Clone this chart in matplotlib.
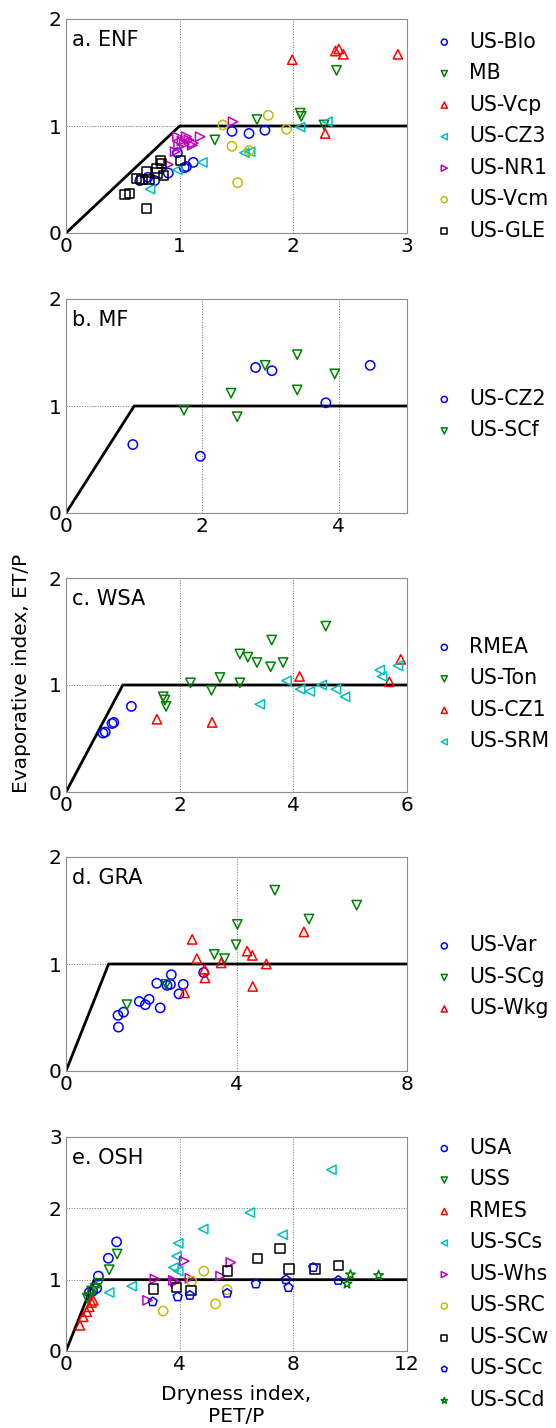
import matplotlib
matplotlib.use("Agg")
import matplotlib.pyplot as plt

# ---------------- data ----------------
# a. ENF
a_blo_x = [1.46, 1.61, 1.75, 1.12, 1.06, 1.04, 0.90, 0.78, 0.65, 0.98, 0.72]
a_blo_y = [0.95, 0.93, 0.96, 0.66, 0.62, 0.61, 0.56, 0.49, 0.49, 0.75, 0.52]
a_mb_x = [2.38, 2.06, 2.07, 1.68, 1.31, 2.27]
a_mb_y = [1.52, 1.12, 1.09, 1.06, 0.87, 1.01]
a_vcp_x = [1.99, 2.37, 2.40, 2.44, 2.92, 2.28]
a_vcp_y = [1.62, 1.70, 1.72, 1.67, 1.67, 0.93]
a_cz3_x = [2.30, 2.06, 1.57, 1.62, 1.20, 0.98, 0.74]
a_cz3_y = [1.04, 0.99, 0.75, 0.76, 0.66, 0.59, 0.41]
a_nr1_x = [1.47, 0.98, 1.06, 1.18, 1.12, 1.04, 0.99, 1.11, 0.96, 0.90, 1.02, 1.08]
a_nr1_y = [1.04, 0.90, 0.90, 0.90, 0.84, 0.83, 0.81, 0.82, 0.76, 0.64, 0.86, 0.87]
a_vcm_x = [1.78, 1.38, 1.94, 1.46, 1.61, 1.51]
a_vcm_y = [1.10, 1.01, 0.97, 0.81, 0.77, 0.47]
a_gle_x = [1.01, 0.83, 0.84, 0.80, 0.86, 0.71, 0.62, 0.73, 0.67, 0.52, 0.56, 0.71, 0.80]
a_gle_y = [0.68, 0.68, 0.65, 0.60, 0.54, 0.57, 0.51, 0.50, 0.50, 0.36, 0.37, 0.23, 0.56]

# b. MF
b_cz2_x = [0.98, 1.97, 2.78, 3.02, 3.81, 4.46]
b_cz2_y = [0.64, 0.53, 1.36, 1.33, 1.03, 1.38]
b_scf_x = [1.73, 2.42, 2.51, 2.92, 3.39, 3.39, 3.94]
b_scf_y = [0.96, 1.12, 0.90, 1.38, 1.48, 1.15, 1.30]

# c. WSA
c_rmea_x = [0.65, 0.69, 0.81, 0.84, 1.15]
c_rmea_y = [0.55, 0.56, 0.64, 0.65, 0.80]
c_ton_x = [1.71, 1.74, 1.76, 2.19, 2.56, 2.71, 3.06, 3.20, 3.36, 3.06, 3.62, 3.60, 3.82, 4.57]
c_ton_y = [0.89, 0.86, 0.80, 1.02, 0.95, 1.07, 1.29, 1.26, 1.21, 1.02, 1.42, 1.17, 1.21, 1.55]
c_cz1_x = [1.60, 2.57, 4.11, 5.69, 5.89]
c_cz1_y = [0.68, 0.65, 1.08, 1.03, 1.24]
c_srm_x = [3.41, 3.88, 4.12, 4.29, 4.50, 4.75, 4.91, 5.52, 5.56, 5.84]
c_srm_y = [0.82, 1.04, 0.96, 0.94, 1.00, 0.96, 0.89, 1.14, 1.08, 1.18]

# d. GRA
d_var_x = [1.23, 1.22, 1.35, 1.72, 1.86, 1.95, 2.21, 2.13, 2.37, 2.45, 2.47, 2.65, 2.75, 3.23]
d_var_y = [0.41, 0.52, 0.55, 0.65, 0.62, 0.67, 0.59, 0.82, 0.80, 0.81, 0.90, 0.72, 0.81, 0.92]
d_scg_x = [1.43, 2.35, 3.48, 3.72, 3.99, 4.02, 4.90, 5.70, 6.82]
d_scg_y = [0.62, 0.81, 1.09, 1.05, 1.18, 1.37, 1.69, 1.42, 1.55]
d_wkg_x = [2.96, 3.07, 3.64, 3.25, 3.26, 2.78, 4.25, 4.37, 4.38, 4.70, 5.58]
d_wkg_y = [1.23, 1.05, 1.01, 0.95, 0.87, 0.73, 1.12, 1.08, 0.79, 1.00, 1.30]

# e. OSH
e_usa_x = [0.82, 0.94, 1.08, 1.14, 1.49, 1.78]
e_usa_y = [0.82, 0.84, 0.88, 1.05, 1.30, 1.53]
e_uss_x = [0.75, 0.84, 0.90, 1.02, 1.16, 1.52, 1.80]
e_uss_y = [0.74, 0.75, 0.84, 0.88, 0.95, 1.14, 1.36]
e_rmes_x = [0.49, 0.61, 0.73, 0.82, 0.90, 0.96]
e_rmes_y = [0.36, 0.48, 0.55, 0.62, 0.68, 0.71]
e_scs_x = [1.52, 2.31, 9.34, 6.47, 4.83, 7.62, 3.95, 3.89, 3.78, 3.95]
e_scs_y = [0.82, 0.91, 2.54, 1.94, 1.71, 1.63, 1.51, 1.33, 1.17, 1.12]
e_whs_x = [2.87, 3.13, 3.78, 3.85, 4.16, 4.36, 5.44, 5.80]
e_whs_y = [0.71, 1.01, 0.99, 0.97, 1.26, 1.02, 1.05, 1.24]
e_src_x = [3.42, 4.42, 4.85, 5.26, 5.67]
e_src_y = [0.56, 0.98, 1.12, 0.66, 0.86]
e_scw_x = [3.07, 3.89, 4.40, 5.69, 6.74, 7.53, 7.85, 8.76, 9.58]
e_scw_y = [0.87, 0.89, 0.85, 1.12, 1.30, 1.44, 1.15, 1.15, 1.20]
e_scc_x = [3.05, 3.93, 4.36, 5.67, 6.68, 7.74, 7.83, 8.70, 9.58]
e_scc_y = [0.69, 0.76, 0.78, 0.81, 0.94, 1.00, 0.89, 1.17, 0.99]
e_scd_x = [9.89, 10.01, 11.00]
e_scd_y = [0.94, 1.07, 1.06]

panel_titles = ["a. ENF", "b. MF", "c. WSA", "d. GRA", "e. OSH"]
x_limits = [3, 5, 6, 8, 12]
x_ticks = [[0, 1, 2, 3], [0, 2, 4], [0, 2, 4, 6], [0, 4, 8], [0, 4, 8, 12]]
y_limits = [2, 2, 2, 2, 3]
y_ticks = [[0, 1, 2], [0, 1, 2], [0, 1, 2], [0, 1, 2], [0, 1, 2, 3]]

panels = [
    [("US-Blo", a_blo_x, a_blo_y, "o", "b"),
     ("MB", a_mb_x, a_mb_y, "v", "g"),
     ("US-Vcp", a_vcp_x, a_vcp_y, "^", "r"),
     ("US-CZ3", a_cz3_x, a_cz3_y, "<", "c"),
     ("US-NR1", a_nr1_x, a_nr1_y, ">", "m"),
     ("US-Vcm", a_vcm_x, a_vcm_y, "o", "y"),
     ("US-GLE", a_gle_x, a_gle_y, "s", "k")],
    [("US-CZ2", b_cz2_x, b_cz2_y, "o", "b"),
     ("US-SCf", b_scf_x, b_scf_y, "v", "g")],
    [("RMEA", c_rmea_x, c_rmea_y, "o", "b"),
     ("US-Ton", c_ton_x, c_ton_y, "v", "g"),
     ("US-CZ1", c_cz1_x, c_cz1_y, "^", "r"),
     ("US-SRM", c_srm_x, c_srm_y, "<", "c")],
    [("US-Var", d_var_x, d_var_y, "o", "b"),
     ("US-SCg", d_scg_x, d_scg_y, "v", "g"),
     ("US-Wkg", d_wkg_x, d_wkg_y, "^", "r")],
    [("USA", e_usa_x, e_usa_y, "o", "b"),
     ("USS", e_uss_x, e_uss_y, "v", "g"),
     ("RMES", e_rmes_x, e_rmes_y, "^", "r"),
     ("US-SCs", e_scs_x, e_scs_y, "<", "c"),
     ("US-Whs", e_whs_x, e_whs_y, ">", "m"),
     ("US-SRC", e_src_x, e_src_y, "o", "y"),
     ("US-SCw", e_scw_x, e_scw_y, "s", "k"),
     ("US-SCc", e_scc_x, e_scc_y, "p", "b"),
     ("US-SCd", e_scd_x, e_scd_y, "*", "g")],
]

classic = {"b": (0, 0, 1), "g": (0, 0.5, 0), "r": (1, 0, 0), "c": (0, 0.75, 0.75),
           "m": (0.75, 0, 0.75), "y": (0.75, 0.75, 0), "k": (0, 0, 0)}

FS = 14.5
FS_LEG = 14.8
FS_TITLE = 15.0
plt.rcParams["font.family"] = ["DejaVu Sans"]
plt.rcParams["font.size"] = FS

W, H = 556, 1428
fig = plt.figure(figsize=(W / 100, H / 100), dpi=100)

ax_left = 66 / W
ax_w = 341 / W
ax_h = 214 / H
tops = [19, 299, 578, 857, 1137]
legend_y = [0.453, 0.46, 0.458, 0.44, 0.36]

for i, series in enumerate(panels):
    bottom = (H - tops[i] - 214) / H
    ax = fig.add_axes([ax_left, bottom, ax_w, ax_h])
    xm = x_limits[i]
    ax.plot([0, 1, xm], [0, 1, 1], color="k", lw=2, zorder=2)
    for name, xs, ys, mk, col in series:
        ms = 45
        if mk == "*":
            ms = 50
        ax.scatter(xs, ys, marker=mk, s=ms, facecolors="none",
                   edgecolors=classic[col], linewidths=1.1, label=name, zorder=3)
    ax.set_xlim(0, xm)
    ax.set_ylim(0, y_limits[i])
    ax.set_xticks(x_ticks[i])
    ax.set_yticks(y_ticks[i])
    ax.tick_params(length=0, pad=3, labelsize=FS)
    ax.grid(True, linestyle=":", color="0.45", lw=0.7)
    ax.set_axisbelow(True)
    for sp in ax.spines.values():
        sp.set_color("0.55")
    ax.text(0.018, 0.95, panel_titles[i], transform=ax.transAxes,
            ha="left", va="top", fontsize=FS_TITLE)
    ax.legend(loc="center left", bbox_to_anchor=(1.025, legend_y[i]),
              frameon=False, markerscale=0.65, handlelength=1.0,
              handletextpad=0.72, fontsize=FS_LEG, labelspacing=0.56,
              borderaxespad=0.5)
    if i == 4:
        ax.set_xlabel("Dryness index,\nPET/P", fontsize=FS, labelpad=8,
                      linespacing=1.2)

fig.text(22 / W, 1 - 673 / H, "Evaporative index, ET/P", rotation=90,
         ha="center", va="center", fontsize=FS)

fig.savefig("out.png", dpi=100)
